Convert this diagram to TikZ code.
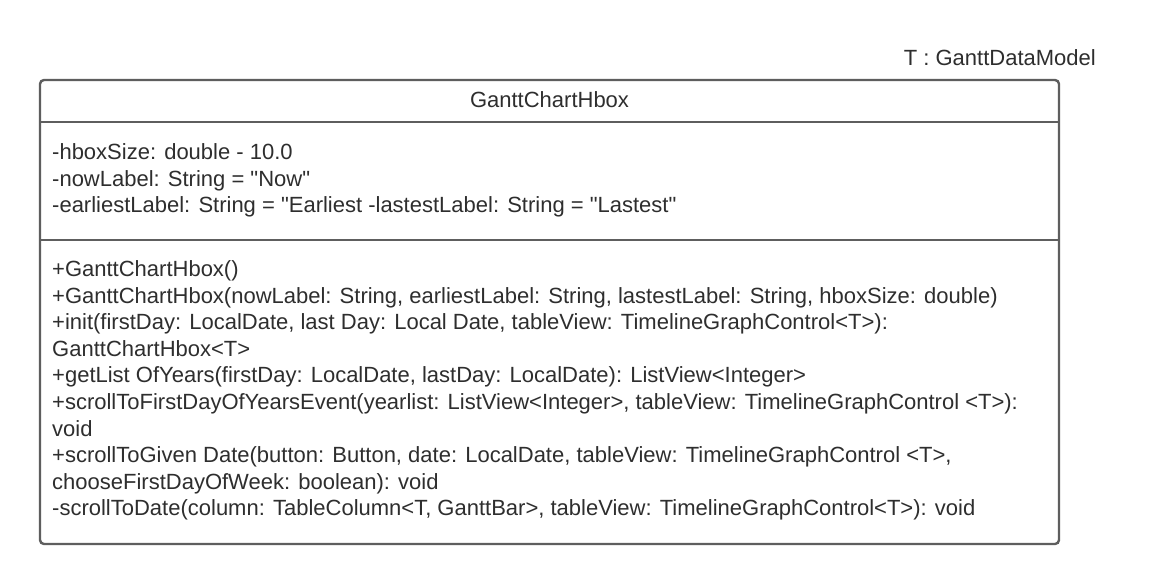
\documentclass[tikz,border=0pt]{standalone}
\usepackage{fontspec}
\setmainfont{Liberation Sans}[Ligatures=TeXOff]
\definecolor{txt}{HTML}{2E2E2E}
\definecolor{edge}{HTML}{5E5E5E}
\begin{document}
\begin{tikzpicture}[x=1pt,y=-1pt,
  lbl/.style={inner sep=0pt, text=txt, font=\fontsize{22}{26}\selectfont, anchor=base west},
  box/.style={draw=edge, line width=2.4pt, rounded corners=4pt},
  sep/.style={draw=edge, line width=2.4pt}]
\useasboundingbox (0,0) rectangle (1160,584);
\fill[white] (0,0) rectangle (1160,584);
\coordinate (tl) at (40,80);
\coordinate (br) at (1059,544);
\draw[box] (tl) rectangle (br);
\coordinate (d1l) at (40,122); \coordinate (d1r) at (1059,122);
\coordinate (d2l) at (40,240); \coordinate (d2r) at (1059,240);
\draw[sep] (d1l) -- (d1r);
\draw[sep] (d2l) -- (d2r);
\node[lbl, anchor=base east] (tp) at (1096,65) {T : GanttDataModel};
\node[lbl, anchor=base] (title) at (549.5,107.5) {GanttChartHbox};
\node[lbl] (a1) at (52,159.5) {-hboxSize: double - 10.0};
\node[lbl] (a2) at (52,186) {-nowLabel: String = "Now"};
\node[lbl] (a3) at (52,212.5) {-earliestLabel: String = "Earliest -lastestLabel: String = "Lastest"};
\node[lbl] (m1) at (52,276.5) {+GanttChartHbox()};
\node[lbl] (m2) at (52,303.1) {+GanttChartHbox(nowLabel: String, earliestLabel: String, lastestLabel: String, hboxSize: double)};
\node[lbl] (m3) at (52,329.7) {+init(firstDay: LocalDate, last Day: Local Date, tableView: TimelineGraphControl<T>):};
\node[lbl] (m4) at (52,356.3) {GanttChartHbox<T>};
\node[lbl] (m5) at (52,382.9) {+getList OfYears(firstDay: LocalDate, lastDay: LocalDate): ListView<Integer>};
\node[lbl] (m6) at (52,409.5) {+scrollToFirstDayOfYearsEvent(yearlist: ListView<Integer>, tableView: TimelineGraphControl <T>):};
\node[lbl] (m7) at (52,436.1) {void};
\node[lbl] (m8) at (52,462.7) {+scrollToGiven Date(button: Button, date: LocalDate, tableView: TimelineGraphControl <T>,};
\node[lbl] (m9) at (52,489.3) {chooseFirstDayOfWeek: boolean): void};
\node[lbl] (m10) at (52,515.9) {-scrollToDate(column: TableColumn<T, GanttBar>, tableView: TimelineGraphControl<T>): void};
\end{tikzpicture}
\end{document}
